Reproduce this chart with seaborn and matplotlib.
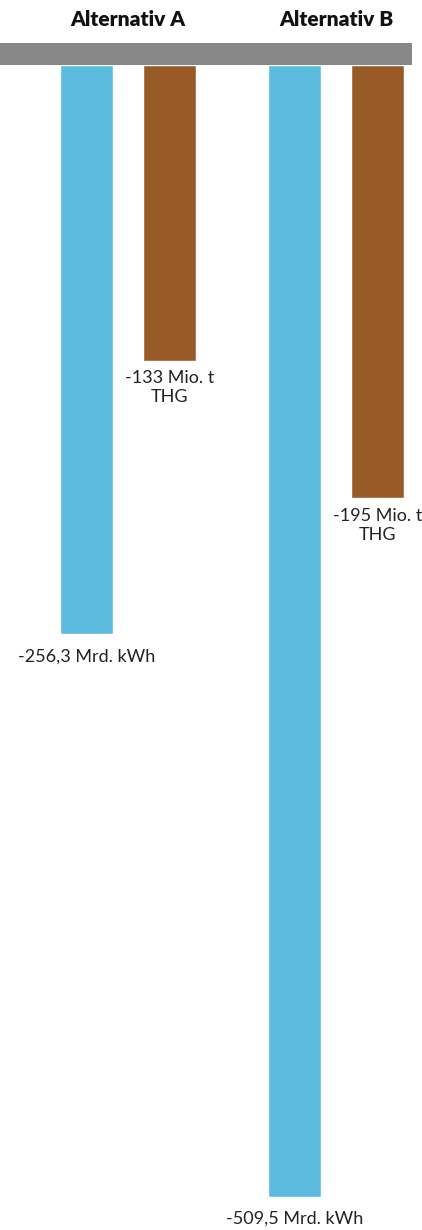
import pandas as pd
import matplotlib.pyplot as plt
import seaborn as sns

# Daten
alternativen = ['Alternativ A', 'Alternativ B']
strom = [-256.3, -509.5]   # Mrd. kWh
thg = [-133, -195]         # Mio. t THG
strom_labels = ['-256,3 Mrd. kWh', '-509,5 Mrd. kWh']
thg_labels = ['-133 Mio. t\nTHG', '-195 Mio. t\nTHG']

df = pd.DataFrame({
    'Alternative': alternativen * 2,
    'Wert': strom + thg,
    'Art': ['Strom'] * 2 + ['THG'] * 2,
})

sns.set_style('white')
plt.rcParams['font.family'] = ['Lato', 'DejaVu Sans']

fig = plt.figure(figsize=(4.22, 12.30), dpi=100)
ax = fig.add_axes([0, 0, 1, 1])

sns.barplot(data=df, x='Alternative', y='Wert', hue='Art',
            palette=['#5bbade', '#985b28'], saturation=1,
            width=0.8, gap=0.36, legend=False, ax=ax)

# Pixelmaßstab: 0 liegt bei y=65 px, ca. 2.222 px pro Einheit
scale = 2.222
ax.set_ylim(-(1230 - 65) / scale, 65 / scale)
ax.set_xlim(-128 / 208, (422 - 128) / 208)

# grauer Balken oben
ax.axhspan(0, 22 / scale, xmin=0, xmax=412 / 422, color='#878787', lw=0)

for i, name in enumerate(alternativen):
    ax.text(i, 45 / scale, name, ha='center', va='center',
            fontsize=15, fontweight='heavy', color='#111111')

ax.bar_label(ax.containers[0], labels=strom_labels, padding=10,
             fontsize=13, color='#222222')
ax.bar_label(ax.containers[1], labels=thg_labels, padding=7,
             fontsize=13, color='#222222')

ax.set_axis_off()
fig.savefig('out.png', dpi=100)
